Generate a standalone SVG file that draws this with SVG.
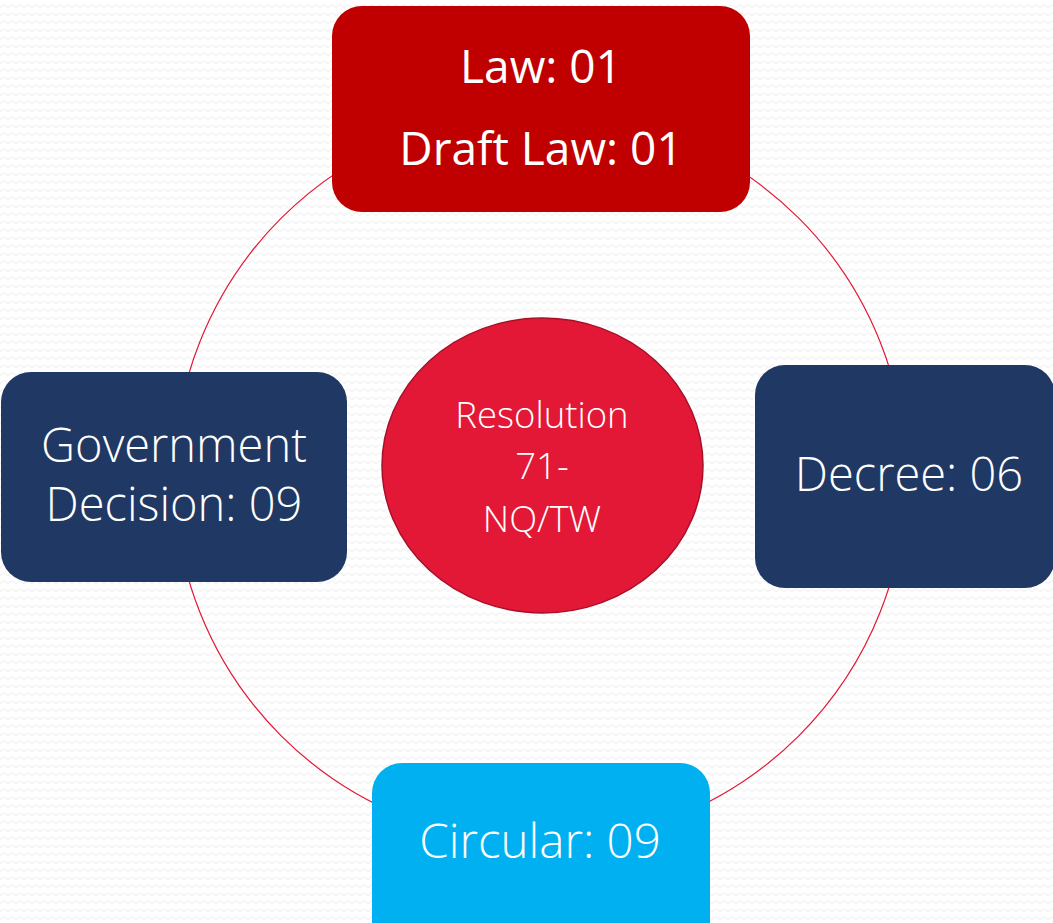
<svg xmlns="http://www.w3.org/2000/svg" width="1053" height="923" viewBox="0 0 1053 923">
<style>
.lbl{font-family:"Open Sans","Noto Sans",sans-serif;font-weight:300;fill:#ffffff;text-anchor:middle}
.reg{font-weight:400}
.ring{fill:none;stroke:#E31837;stroke-width:1.2}
</style>
<defs>
<pattern id="bg" width="16" height="16" patternUnits="userSpaceOnUse">
<rect width="16" height="16" fill="#ffffff"/>
<path d="M0 8 Q4 2 8 8 Q12 2 16 8 M0 16 Q4 10 8 16 Q12 10 16 16" fill="none" stroke="#f1f1f1" stroke-width="1.2"/>
</pattern>
</defs>
<rect width="1053" height="923" fill="url(#bg)"/>
<g id="connectors">
<circle class="ring" cx="540" cy="477" r="366"/>
</g>
<g id="law">
<rect x="332" y="6" width="418" height="206" rx="30" fill="#C00000"/>
<text class="lbl reg" x="541" y="83" font-size="46">Law: 01</text>
<text class="lbl reg" x="541" y="165" font-size="46">Draft Law: 01</text>
</g>
<g id="resolution">
<ellipse cx="542.5" cy="465.5" rx="160.5" ry="147.5" fill="#E31837" stroke="#A8102A" stroke-width="1.5"/>
<text class="lbl" x="542" y="428" font-size="36.5">Resolution</text>
<text class="lbl" x="542" y="479" font-size="36.5">71-</text>
<text class="lbl" x="542" y="532" font-size="36.5">NQ/TW</text>
</g>
<g id="government">
<rect x="1" y="372" width="346" height="210" rx="30" fill="#203864"/>
<text class="lbl" x="174" y="462" font-size="47">Government</text>
<text class="lbl" x="174" y="521" font-size="47">Decision: 09</text>
</g>
<g id="decree">
<rect x="755" y="365" width="300" height="223" rx="30" fill="#203864"/>
<text class="lbl" x="909" y="491" font-size="47">Decree: 06</text>
</g>
<g id="circular">
<rect x="372" y="763" width="338" height="190" rx="30" fill="#00B0F0"/>
<text class="lbl" x="540" y="858" font-size="47.5">Circular: 09</text>
</g>
</svg>
